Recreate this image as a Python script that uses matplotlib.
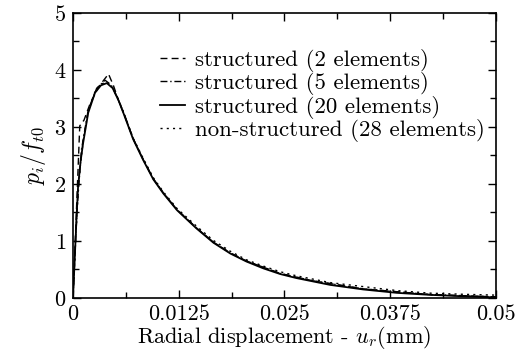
import matplotlib
matplotlib.use('Agg')
import matplotlib.pyplot as plt
from matplotlib.ticker import MultipleLocator

plt.rcParams['font.family'] = 'serif'
plt.rcParams['font.serif'] = ['cmr10']
plt.rcParams['mathtext.fontset'] = 'cm'
plt.rcParams['axes.formatter.use_mathtext'] = True

# structured (20 elements)
x20 = [0, 0.0002, 0.0004, 0.0006, 0.0009, 0.0012, 0.0018, 0.0026, 0.0033, 0.0040,
       0.0047, 0.0054, 0.006, 0.0071, 0.0083, 0.0095, 0.0107, 0.0123, 0.0146, 0.0166,
       0.0186, 0.0205, 0.0225, 0.0245, 0.0264, 0.0284, 0.0304, 0.0343, 0.0383, 0.0422,
       0.0461, 0.05]
y20 = [0, 0.67, 1.35, 1.95, 2.4, 2.72, 3.25, 3.6, 3.73, 3.77,
       3.68, 3.46, 3.23, 2.79, 2.42, 2.08, 1.83, 1.54, 1.22, 0.97,
       0.78, 0.64, 0.52, 0.42, 0.35, 0.29, 0.23, 0.15, 0.09, 0.055,
       0.03, 0.01]

# structured (2 elements)
x2 = [0, 0.0008, 0.0013, 0.002, 0.003, 0.0042, 0.0048, 0.0055, 0.006, 0.0071,
      0.0083, 0.0095, 0.0107, 0.0123, 0.0146, 0.0166, 0.0186, 0.0205, 0.0245, 0.0284,
      0.0343, 0.0422, 0.05]
y2 = [0, 3.02, 3.12, 3.4, 3.7, 3.93, 3.72, 3.42, 3.24, 2.8,
      2.43, 2.09, 1.84, 1.55, 1.23, 0.98, 0.79, 0.65, 0.43, 0.30,
      0.16, 0.06, 0.02]

# structured (5 elements)
x5 = [0, 0.0005, 0.001, 0.0018, 0.0028, 0.0038, 0.0045, 0.0053, 0.006, 0.0071,
      0.0083, 0.0095, 0.0107, 0.0123, 0.0146, 0.0166, 0.0186, 0.0205, 0.0245, 0.0284,
      0.0343, 0.0422, 0.05]
y5 = [0, 1.6, 2.6, 3.3, 3.68, 3.82, 3.74, 3.5, 3.25, 2.8,
      2.43, 2.09, 1.84, 1.55, 1.23, 0.98, 0.79, 0.65, 0.43, 0.30,
      0.16, 0.06, 0.02]

# non-structured (28 elements)
x28 = [0, 0.0003, 0.0007, 0.0012, 0.0018, 0.0026, 0.0033, 0.004, 0.0047, 0.0055,
       0.006, 0.0071, 0.0083, 0.0095, 0.0107, 0.0123, 0.0146, 0.0166, 0.0186, 0.0205,
       0.0225, 0.0245, 0.0264, 0.0284, 0.0304, 0.0343, 0.0383, 0.0422, 0.0461, 0.05]
y28 = [0, 1.0, 2.1, 2.75, 3.27, 3.62, 3.75, 3.79, 3.69, 3.43,
       3.25, 2.81, 2.45, 2.11, 1.86, 1.57, 1.26, 1.01, 0.82, 0.67,
       0.56, 0.46, 0.39, 0.33, 0.27, 0.20, 0.13, 0.085, 0.065, 0.05]

fig = plt.figure(figsize=(5.27, 3.57), dpi=100)
ax = fig.add_axes([0.1385, 0.1653, 0.8025, 0.7983])

ax.plot(x2, y2, color='black', lw=1.0, ls=(0, (5, 3)), label='structured (2 elements)')
ax.plot(x5, y5, color='black', lw=1.0, ls=(0, (5, 2, 1, 2)), label='structured (5 elements)')
ax.plot(x20, y20, color='black', lw=1.3, ls='-', label='structured (20 elements)')
ax.plot(x28, y28, color='black', lw=1.0, ls=(0, (1.5, 3)), label='non-structured (28 elements)')

ax.set_xlim(0, 0.05)
ax.set_ylim(0, 5)
ax.set_xticks([0, 0.0125, 0.025, 0.0375, 0.05])
ax.set_xticklabels(['0', '0.0125', '0.025', '0.0375', '0.05'])
ax.xaxis.set_minor_locator(MultipleLocator(0.00625))
ax.yaxis.set_major_locator(MultipleLocator(1))
ax.yaxis.set_minor_locator(MultipleLocator(0.5))
ax.tick_params(which='both', direction='in', top=True, right=True, labelsize=16, width=1)
ax.tick_params(which='major', length=6, pad=5)
ax.tick_params(which='minor', length=4)
for s in ax.spines.values():
    s.set_linewidth(1.2)

ax.set_xlabel('Radial displacement - $u_r$(mm)', fontsize=16, labelpad=0)
ax.set_ylabel('$p_i/f_{t0}$', fontsize=17, labelpad=4)

ax.legend(loc='upper right', bbox_to_anchor=(1.0, 0.915), frameon=False, fontsize=16.5,
          handlelength=1.1, handletextpad=0.4, labelspacing=0.02, borderaxespad=0.1)

fig.savefig('out.png', dpi=100)
